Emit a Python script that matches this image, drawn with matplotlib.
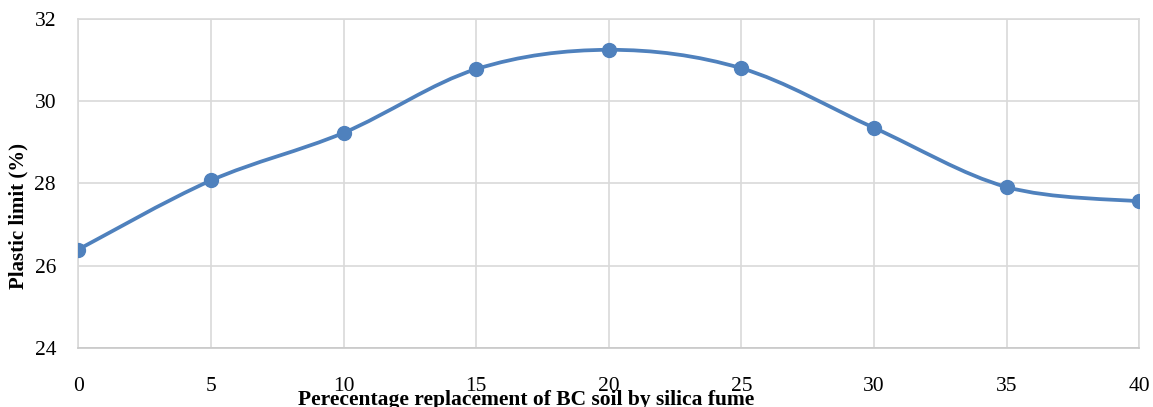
import numpy as np
import matplotlib
matplotlib.use("Agg")
import matplotlib.pyplot as plt
from matplotlib.path import Path
from matplotlib.patches import PathPatch

# data
replacement = [0, 5, 10, 15, 20, 25, 30, 35, 40]
plastic_limit = [26.39, 28.07, 29.23, 30.78, 31.25, 30.80, 29.35, 27.91, 27.56]
y_ticks = [24, 26, 28, 30, 32]
x_ticks = [0, 5, 10, 15, 20, 25, 30, 35, 40]

blue = "#4F81BD"
grid_c = "#D9D9D9"

plt.rcParams["font.family"] = ["Liberation Serif", "DejaVu Serif"]


def smooth_path(xs, ys):
    # excel style smoothed line: cubic bezier, control points at 1/6 of neighbour span
    pts = np.column_stack([xs, ys]).astype(float)
    n = len(pts)
    verts = [pts[0]]
    codes = [Path.MOVETO]
    for i in range(n - 1):
        p0 = pts[i - 1] if i > 0 else pts[i]
        p1 = pts[i]
        p2 = pts[i + 1]
        p3 = pts[i + 2] if i + 2 < n else pts[i + 1]
        c1 = p1 + (p2 - p0) / 6.0
        c2 = p2 - (p3 - p1) / 6.0
        verts += [c1, c2, p2]
        codes += [Path.CURVE4] * 3
    return Path(verts, codes)


fig = plt.figure(figsize=(11.53, 4.07), dpi=100)
ax = fig.add_axes([0.0679, 0.1457, 0.9203, 0.8076])

ax.add_patch(PathPatch(smooth_path(replacement, plastic_limit), facecolor="none",
                       edgecolor=blue, lw=2.7, zorder=3))
ax.plot(replacement, plastic_limit, ls="none", marker="o", ms=10, color=blue, zorder=4)

ax.set_xlim(0, 40)
ax.set_ylim(24, 32)
ax.set_xticks(x_ticks)
ax.set_yticks(y_ticks)
ax.grid(True, color=grid_c, lw=1.2)
ax.set_axisbelow(True)
for s in ax.spines.values():
    s.set_color(grid_c)
    s.set_linewidth(1.2)
ax.spines["bottom"].set_color("#C8C8C8")
ax.tick_params(axis="x", length=0, pad=21, labelsize=15.5)
ax.tick_params(axis="y", length=0, pad=16, labelsize=15.5)

fig.text(526 / 1153, 0.006, "Perecentage replacement of BC soil by silica fume",
         ha="center", va="baseline", fontsize=15.5, fontweight="bold")
fig.text(18 / 1153, 0.4705, "Plastic limit (%)", rotation=90,
         ha="center", va="center", fontsize=15, fontweight="bold")

fig.savefig("out.png", dpi=100)
